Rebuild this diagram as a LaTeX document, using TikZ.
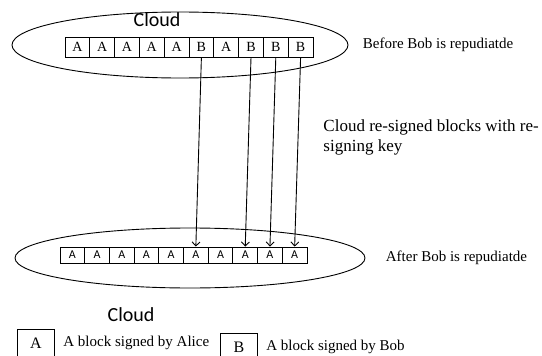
\documentclass[tikz,border=0pt]{standalone}
\usepackage{fontspec}
\setmainfont{Liberation Serif}
\newfontfamily\calibri{Carlito}
\usetikzlibrary{shapes.geometric, arrows.meta, positioning}

\begin{document}
\begin{tikzpicture}[
    x=1pt, y=-1pt,
    line width=0.9pt,
    cloud/.style={ellipse, draw, inner sep=0pt},
    topcell/.style={rectangle, draw, minimum width=24.8pt, minimum height=20pt, inner sep=0pt, font=\fontsize{14}{16}\selectfont},
    botcell/.style={rectangle, draw, minimum width=24.7pt, minimum height=16pt, inner sep=0pt, font=\calibri\fontsize{12}{14}\selectfont},
    legend/.style={rectangle, draw, minimum width=37pt, minimum height=28pt, inner sep=0pt, font=\fontsize{16}{18}\selectfont},
    note/.style={font=\fontsize{15}{18}\selectfont, inner sep=0pt},
    title/.style={font=\calibri\fontsize{20}{24}\selectfont, inner sep=0pt},
    arrow/.style={-{Straight Barb[length=4pt, width=8pt]}}
  ]
  \useasboundingbox (0,0) rectangle (542,356);

  % Clouds
  \node (cloudtop) [cloud, minimum width=336pt, minimum height=66pt] at (180,45) {};
  \node (cloudbot) [cloud, minimum width=350pt, minimum height=60pt] at (190,258) {};
  \node (titletop) [title] at (157,20) {Cloud};
  \node (titlebot) [title] at (131,315) {Cloud};

  % Blocks
  \foreach \lbl [count=\i] in {A,A,A,A,A,B,A,B,B,B}
    \node (top\i) [topcell] at ({65+24.8*(\i-0.5)},47) {\lbl};
  \foreach \i in {1,...,10}
    \node (bot\i) [botcell] at ({60+24.7*(\i-0.5)},255) {A};

  % Notes
  \node (before) [note, right=14pt of cloudtop] {Before Bob is repudiatde};
  \node (after) [note, right=20pt of cloudbot] {After Bob is repudiatde};
  \node (resign) [note, font=\fontsize{17}{20}\selectfont, align=left, anchor=west] at (323,137) {Cloud re-signed blocks with re-\\signing key};

  % Legend
  \node (keya) [legend] at (36,343) {A};
  \node (texta) [note, right=8pt of keya] {A block signed by Alice};
  \node (keyb) [legend] at (239,347) {B};
  \node (textb) [note, right=8pt of keyb] {A block signed by Bob};

  % Re-signing
  \foreach \i in {6,8,9,10}
    \draw [arrow] (top\i.south) -- (bot\i.north);

\end{tikzpicture}
\end{document}
